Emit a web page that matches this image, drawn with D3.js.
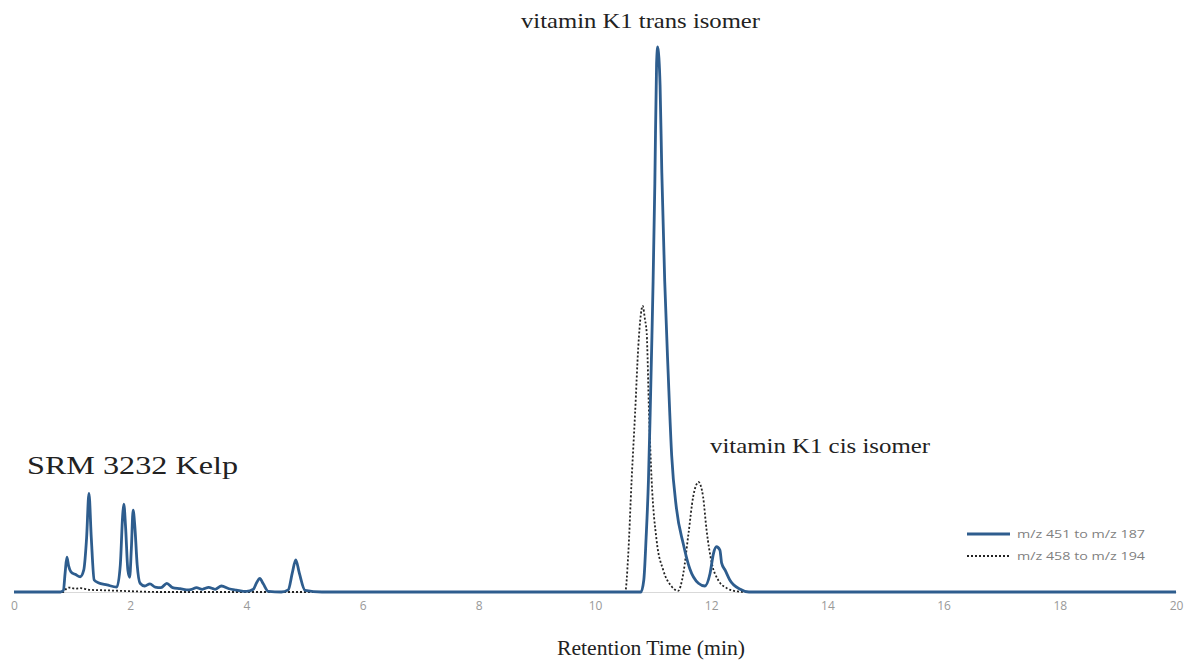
<!DOCTYPE html>
<html>
<head>
<meta charset="utf-8">
<script src="https://cdn.jsdelivr.net/npm/d3@7"></script>
<style>
  body { margin: 0; background: #fff; }
  svg { display: block; }
</style>
</head>
<body>
<svg id="chart" width="1186" height="660"></svg>
<script>
// retention time (min) and relative intensity
const timeSolid = [0, 0.8, 0.85, 0.88, 0.91, 0.94, 0.98, 1.06, 1.14, 1.2, 1.25, 1.29, 1.33, 1.38, 1.45, 1.6, 1.77,
  1.83, 1.87, 1.89, 1.92, 1.96, 1.99, 2.02, 2.05, 2.08, 2.12, 2.17, 2.25, 2.34, 2.43, 2.53, 2.63, 2.73, 2.86,
  2.97, 3.06, 3.14, 3.24, 3.35, 3.46, 3.57, 3.7, 3.83, 4.0, 4.12, 4.18, 4.23, 4.29, 4.38, 4.6, 4.72, 4.79, 4.85,
  4.91, 5.01, 5.3, 6, 8, 10, 10.79, 10.84, 10.88, 10.92, 10.95, 10.98, 11.0, 11.03, 11.06, 11.08, 11.1, 11.12,
  11.15, 11.2, 11.26, 11.32, 11.4, 11.52, 11.63, 11.78, 11.89, 11.98, 12.04, 12.09, 12.15, 12.18, 12.24, 12.32,
  12.5, 12.65, 14, 16, 18, 20];
const intensitySolid = [0, 0, 0.3, 3.5, 6.4, 4.8, 3.7, 3.2, 2.8, 4, 10, 18.1, 10, 2.2, 1.7, 1.3, 0.9,
  5, 14, 16.1, 12, 4, 2.7, 8, 15, 12, 5, 1.6, 1.1, 1.5, 0.9, 0.8, 1.6, 0.8, 0.6,
  0.4, 0.5, 0.8, 0.5, 0.85, 0.5, 1.1, 0.6, 0.35, 0.1, 0.5, 1.8, 2.5, 1.5, 0.1, 0, 0.4, 3.5, 5.9,
  3.5, 0.3, 0, 0, 0, 0, 0, 2.2, 10, 20.5, 33, 47, 57, 75, 97, 100, 98, 93,
  77, 57, 40, 25, 15.5, 8.8, 4.3, 1.6, 1.1, 3.4, 7.1, 8.3, 7.7, 5.3, 4.0, 2.2,
  0.5, 0, 0, 0, 0, 0];

const timeDotted = [0, 0.85, 0.9, 0.95, 1.05, 1.15, 1.3, 1.6, 2.0, 2.5, 10.4, 10.52, 10.57, 10.63, 10.69, 10.745,
  10.79, 10.82, 10.86, 10.89, 10.93, 10.975, 11.06, 11.175, 11.32, 11.43, 11.52, 11.61, 11.69, 11.76, 11.78,
  11.82, 11.86, 11.92, 12.01, 12.12, 12.27, 12.45, 12.6, 20];
const intensityDotted = [0, 0, 0.6, 0.8, 0.6, 0.7, 0.4, 0.3, 0.15, 0, 0, 0, 6.5, 20.5, 32.8, 45,
  51, 52.5, 50, 47.5, 32.8, 20.5, 9.5, 4.0, 1.0, 0.2, 3.4, 10.8, 17.5, 20, 20.2,
  19.5, 17.5, 11.4, 5.3, 2.2, 0.7, 0.1, 0, 0];

const xTicks = [0, 2, 4, 6, 8, 10, 12, 14, 16, 18, 20];
const seriesNames = ['m/z 451 to m/z 187', 'm/z 458 to m/z 194'];

const svg = d3.select('#chart');

const x = d3.scaleLinear()
  .domain([0, 20])
  .range([14, 1176]);

const y = d3.scaleLinear()
  .domain([0, 100])
  .range([592, 47]);

const solid = timeSolid.map((t, i) => ({ t, v: intensitySolid[i] }));
const dotted = timeDotted.map((t, i) => ({ t, v: intensityDotted[i] }));

const line = d3.line()
  .x(d => x(d.t))
  .y(d => y(d.v))
  .curve(d3.curveMonotoneX);

// x axis: plain light line, no tick marks
const axis = svg.append('g')
  .attr('transform', `translate(0,${y(0)})`)
  .call(d3.axisBottom(x).tickValues(xTicks).tickSize(0).tickPadding(9));

axis.select('.domain')
  .attr('stroke', '#d9d9d9');

axis.selectAll('text')
  .attr('fill', '#999')
  .attr('font-family', '"Open Sans", sans-serif')
  .attr('font-size', 12);

svg.append('path')
  .datum(dotted)
  .attr('fill', 'none')
  .attr('stroke', '#222')
  .attr('stroke-width', 1.8)
  .attr('stroke-dasharray', '2,2')
  .attr('d', line);

svg.append('path')
  .datum(solid)
  .attr('fill', 'none')
  .attr('stroke', '#2e5d8e')
  .attr('stroke-width', 2.8)
  .attr('stroke-linejoin', 'round')
  .attr('d', line);

// labels
const serif = '"Liberation Serif", "Times New Roman", serif';

svg.append('text')
  .attr('x', 521)
  .attr('y', 28)
  .attr('font-family', serif)
  .attr('font-size', 21)
  .attr('fill', '#222')
  .attr('textLength', 239)
  .attr('lengthAdjust', 'spacingAndGlyphs')
  .text('vitamin K1 trans isomer');

svg.append('text')
  .attr('x', 710)
  .attr('y', 453)
  .attr('font-family', serif)
  .attr('font-size', 21)
  .attr('fill', '#222')
  .attr('textLength', 220)
  .attr('lengthAdjust', 'spacingAndGlyphs')
  .text('vitamin K1 cis isomer');

svg.append('text')
  .attr('x', 27)
  .attr('y', 474)
  .attr('font-family', serif)
  .attr('font-size', 25)
  .attr('fill', '#222')
  .attr('textLength', 211)
  .attr('lengthAdjust', 'spacingAndGlyphs')
  .text('SRM 3232 Kelp');

svg.append('text')
  .attr('x', 557)
  .attr('y', 655)
  .attr('font-family', serif)
  .attr('font-size', 20)
  .attr('fill', '#222')
  .attr('textLength', 188)
  .attr('lengthAdjust', 'spacingAndGlyphs')
  .text('Retention Time (min)');

// legend
const legend = svg.append('g')
  .selectAll('g')
  .data(seriesNames)
  .enter()
  .append('g')
  .attr('transform', (d, i) => `translate(967,${534 + i * 22})`);

legend.append('line')
  .attr('x1', 0)
  .attr('x2', 43)
  .attr('stroke', (d, i) => (i === 0 ? '#2e5d8e' : '#222'))
  .attr('stroke-width', (d, i) => (i === 0 ? 2.8 : 1.8))
  .attr('stroke-dasharray', (d, i) => (i === 0 ? null : '2,2'));

legend.append('text')
  .attr('x', 50)
  .attr('dy', '0.35em')
  .attr('font-family', '"Open Sans", sans-serif')
  .attr('font-size', 11)
  .attr('fill', '#7f7f7f')
  .attr('textLength', 128)
  .attr('lengthAdjust', 'spacingAndGlyphs')
  .text(d => d);
</script>
</body>
</html>
